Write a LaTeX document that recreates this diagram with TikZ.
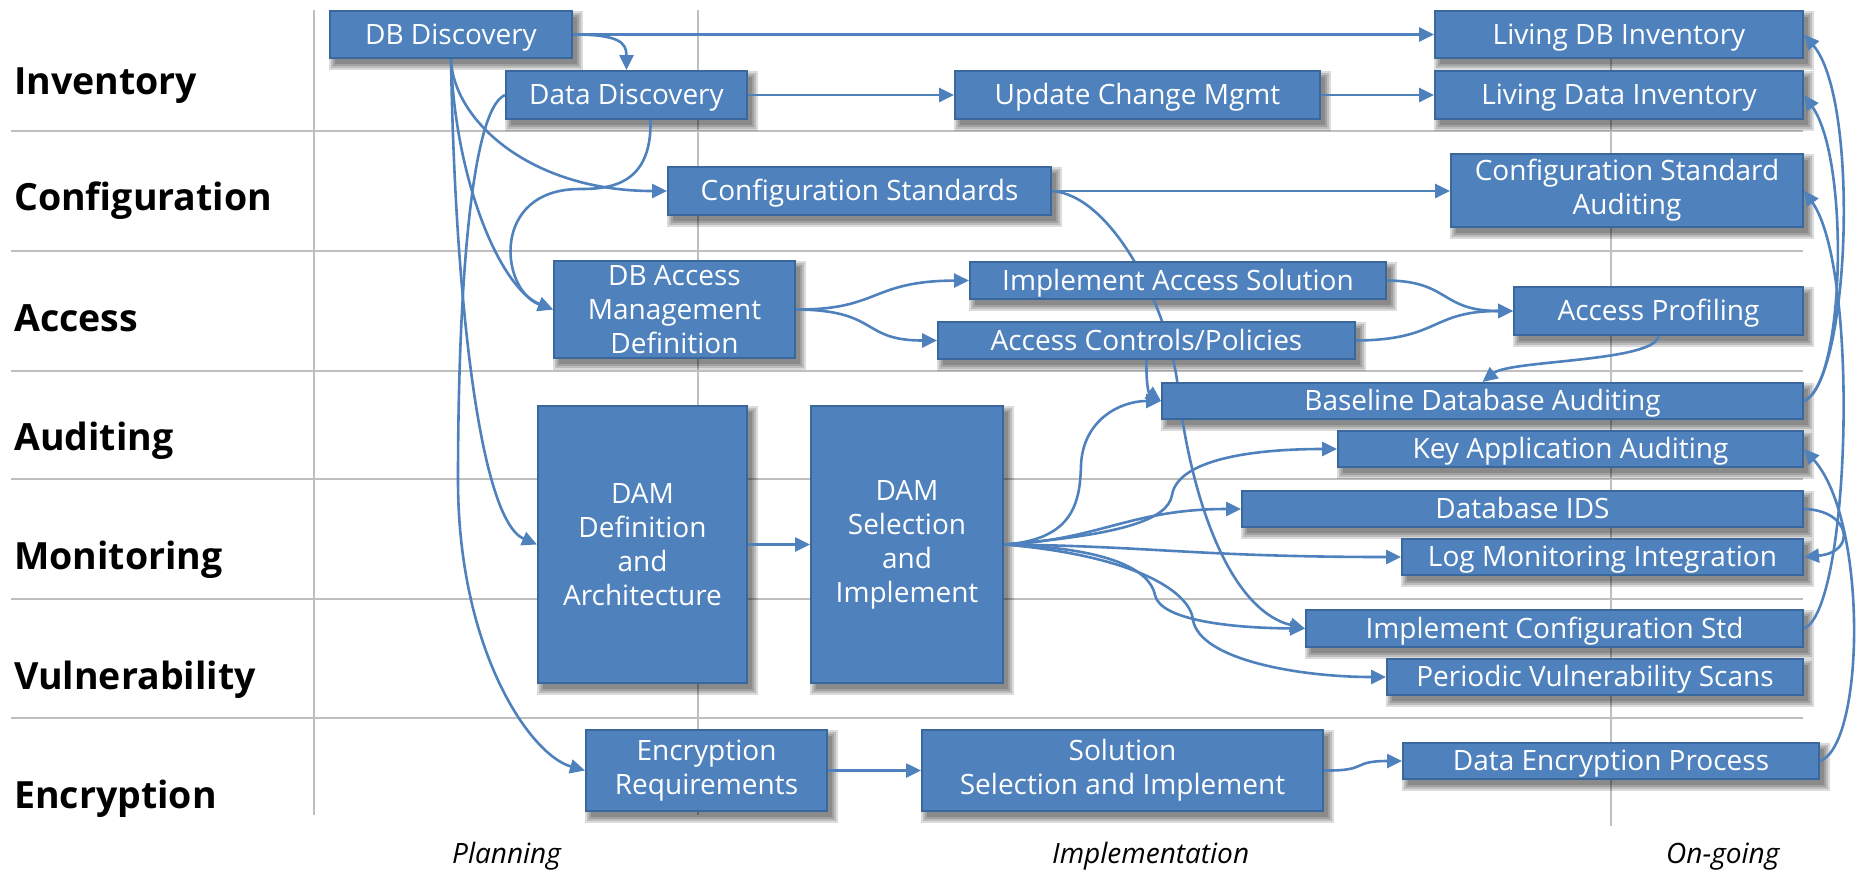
\documentclass[tikz,border=0pt]{standalone}
\usepackage{fontspec}
\setmainfont{Open Sans}
\usetikzlibrary{arrows.meta}
\definecolor{boxblue}{HTML}{4F81BD}
\definecolor{boxedge}{HTML}{3A679C}
\definecolor{gridgray}{HTML}{BFBFBF}
\pgfdeclarelayer{gridlayer}
\pgfdeclarelayer{shadowlayer}
\pgfdeclarelayer{connlayer}
\pgfsetlayers{gridlayer,shadowlayer,connlayer,main}
\tikzset{
  box/.style={draw=boxedge, line width=2pt, fill=boxblue, text=white, align=center,
    inner sep=0pt, font=\fontsize{28}{34}\selectfont},
  single/.style={text height=24.5pt, text depth=5pt},
  conn/.style={draw=boxblue, line width=2.6pt, -{Triangle[length=15pt,width=14pt]}},
  gridline/.style={draw=gridgray, line width=2.4pt},
  rowlabel/.style={anchor=base west, inner sep=0pt, font=\fontsize{37.5}{40}\selectfont\bfseries},
  phaselabel/.style={anchor=base west, inner sep=0pt, font=\fontsize{28}{32}\selectfont\itshape},
}
\begin{document}
\begin{tikzpicture}[x=1pt,y=-1pt]
\useasboundingbox (0,0) rectangle (1860,871);

% grid
\begin{pgfonlayer}{gridlayer}
\foreach \yy in {131,251,371,479,599,718} \draw[gridline] (11,\yy) -- (1803,\yy);
\draw[gridline] (314,10) -- (314,815);
\draw[gridline] (698,10) -- (698,815);
\draw[gridline] (1611,10) -- (1611,826);
\end{pgfonlayer}

% row labels
\node[rowlabel] (lInv) at (14,94) {Inventory};
\node[rowlabel] (lConf) at (14,210) {Configuration};
\node[rowlabel] (lAcc) at (14,331) {Access};
\node[rowlabel] (lAud) at (14,450) {Auditing};
\node[rowlabel] (lMon) at (14,569) {Monitoring};
\node[rowlabel] (lVul) at (14,689) {Vulnerability};
\node[rowlabel] (lEnc) at (14,808) {Encryption};

% phase labels
\node[phaselabel] (pPlan) at (452,863) {Planning};
\node[phaselabel] (pImpl) at (1052,863) {Implementation};
\node[phaselabel] (pOn) at (1666,863) {On-going};

% boxes
\node[box, single, minimum width=242pt, minimum height=47pt] (dbd) at (451,34.5) {DB Discovery};
\node[box, single, minimum width=241pt, minimum height=48pt] (dd) at (626.5,95) {Data Discovery};
\node[box, single, minimum width=365pt, minimum height=48pt] (ucm) at (1137.5,95) {Update Change Mgmt};
\node[box, single, minimum width=368pt, minimum height=47pt] (ldb) at (1619,34.5) {Living DB Inventory};
\node[box, single, minimum width=368pt, minimum height=48pt] (ldi) at (1619,95) {Living Data Inventory};
\node[box, single, minimum width=383pt, minimum height=48pt] (cs) at (859.5,191) {Configuration Standards};
\node[box, minimum width=352pt, minimum height=73pt] (csa) at (1627,190.5) {Configuration Standard\\Auditing};
\node[box, minimum width=241pt, minimum height=97pt] (dba) at (674.5,309.5) {DB Access\\Management\\Definition};
\node[box, single, minimum width=416pt, minimum height=37pt] (ias) at (1178,280.5) {Implement Access Solution};
\node[box, single, minimum width=417pt, minimum height=37pt] (acp) at (1146.5,340.5) {Access Controls/Policies};
\node[box, single, minimum width=289pt, minimum height=48pt] (ap) at (1658.5,311) {Access Profiling};
\node[box, single, minimum width=641pt, minimum height=36pt] (bda) at (1482.5,401) {Baseline Database Auditing};
\node[box, single, minimum width=465pt, minimum height=36pt] (kaa) at (1570.5,449) {Key Application Auditing};
\node[box, single, minimum width=561pt, minimum height=36pt] (ids) at (1522.5,509) {Database IDS};
\node[box, single, minimum width=401pt, minimum height=36pt] (lmi) at (1602.5,557) {Log Monitoring Integration};
\node[box, single, minimum width=497pt, minimum height=37pt] (ics) at (1554.5,628.5) {Implement Configuration Std};
\node[box, single, minimum width=416pt, minimum height=36pt] (pvs) at (1595,677) {Periodic Vulnerability Scans};
\node[box, minimum width=209pt, minimum height=277pt] (damd) at (642.5,544.5) {DAM\\Definition\\and\\Architecture};
\node[box, minimum width=192pt, minimum height=277pt] (dams) at (907,544.5) {DAM\\Selection\\and\\Implement};
\node[box, minimum width=241pt, minimum height=81pt] (er) at (706.5,770.5) {Encryption\\Requirements};
\node[box, minimum width=401pt, minimum height=81pt] (sol) at (1122.5,770.5) {Solution\\Selection and Implement};
\node[box, single, minimum width=416pt, minimum height=36pt] (dep) at (1611,761) {Data Encryption Process};

% shadows
\begin{pgfonlayer}{shadowlayer}
\foreach \n in {dbd,dd,ucm,ldb,ldi,cs,csa,dba,ias,acp,ap,bda,kaa,ids,lmi,ics,pvs,damd,dams,er,sol,dep}{
  \foreach \e in {0,2,4,6}{
    \fill[black,opacity=0.14] ([shift={(6-\e,7-\e)}]\n.north west) rectangle ([shift={(\e+4,\e+5)}]\n.south east);
  }
}
\end{pgfonlayer}

% connectors
\begin{pgfonlayer}{connlayer}
\draw[conn] (dbd.east) -- (ldb.west);
\draw[conn] (dbd.east) .. controls +(45,0) and +(0,-28) .. (dd.north);
\draw[conn] (dd.east) -- (ucm.west);
\draw[conn] (ucm.east) -- (ldi.west);
\draw[conn] (cs.east) -- (csa.west |- cs.east);
\draw[conn] (dbd.south) .. controls (453,120) and (530,191) .. (cs.west);
\draw[conn] (dbd.south) .. controls (455,180) and (500,288) .. (dba.west);
\draw[conn] (dbd.south) .. controls (455,300) and (480,520) .. (damd.west);
\draw[conn] ([xshift=24pt]dd.south) .. controls (652,185) and (610,189) .. (580,189)
   .. controls (490,189) and (500,290) .. (dba.west);
\draw[conn] (dd.west) .. controls (470,110) and (458,300) .. (458,480)
   .. controls (458,650) and (530,755) .. (er.west);
\draw[conn] (damd.east) -- (dams.west);
\draw[conn] (dba.east) .. controls (880,310) and (870,281) .. (ias.west);
\draw[conn] (dba.east) .. controls (880,310) and (860,340.5) .. (acp.west);
\draw[conn] (ias.east) .. controls (1450,281) and (1440,311) .. (ap.west);
\draw[conn] (acp.east) .. controls (1440,340) and (1430,311) .. (ap.west);
\draw[conn] (ap.south) .. controls (1655,362) and (1510,360) .. (bda.north);
\draw[conn] (acp.south) .. controls (1146,380) and (1148,392) .. (bda.west);
\draw[conn] (dams.east) .. controls (1075,540) and (1080,500) .. (1081,465)
   .. controls (1083,420) and (1120,401) .. (bda.west);
\draw[conn] (dams.east) .. controls (1120,535) and (1168,520) .. (1172,495)
   .. controls (1178,460) and (1250,449) .. (kaa.west);
\draw[conn] (dams.east) .. controls (1100,540) and (1130,509) .. (ids.west);
\draw[conn] (dams.east) .. controls (1150,546) and (1200,557) .. (lmi.west);
\draw[conn] (dams.east) .. controls (1110,548) and (1150,570) .. (1155,595)
   .. controls (1160,620) and (1230,628) .. (ics.west);
\draw[conn] (dams.east) .. controls (1130,555) and (1190,590) .. (1193,620)
   .. controls (1200,660) and (1300,677) .. (pvs.west);
\draw[conn] (cs.east) .. controls (1110,195) and (1165,300) .. (1177,380)
   .. controls (1190,500) and (1230,610) .. (ics.west);
\draw[conn] (er.east) -- (sol.west);
\draw[conn] (sol.east) .. controls (1370,771) and (1350,761) .. (dep.west);
\draw[conn] (bda.east) .. controls (1850,380) and (1860,100) .. (ldb.east);
\draw[conn] (bda.east) .. controls (1845,385) and (1850,160) .. (ldi.east);
\draw[conn] (ics.east) .. controls (1850,610) and (1860,270) .. (csa.east);
\draw[conn] (ids.east) .. controls (1850,510) and (1858,552) .. (lmi.east);
\draw[conn] (dep.east) .. controls (1865,745) and (1868,520) .. (kaa.east);
\end{pgfonlayer}
\end{tikzpicture}
\end{document}
